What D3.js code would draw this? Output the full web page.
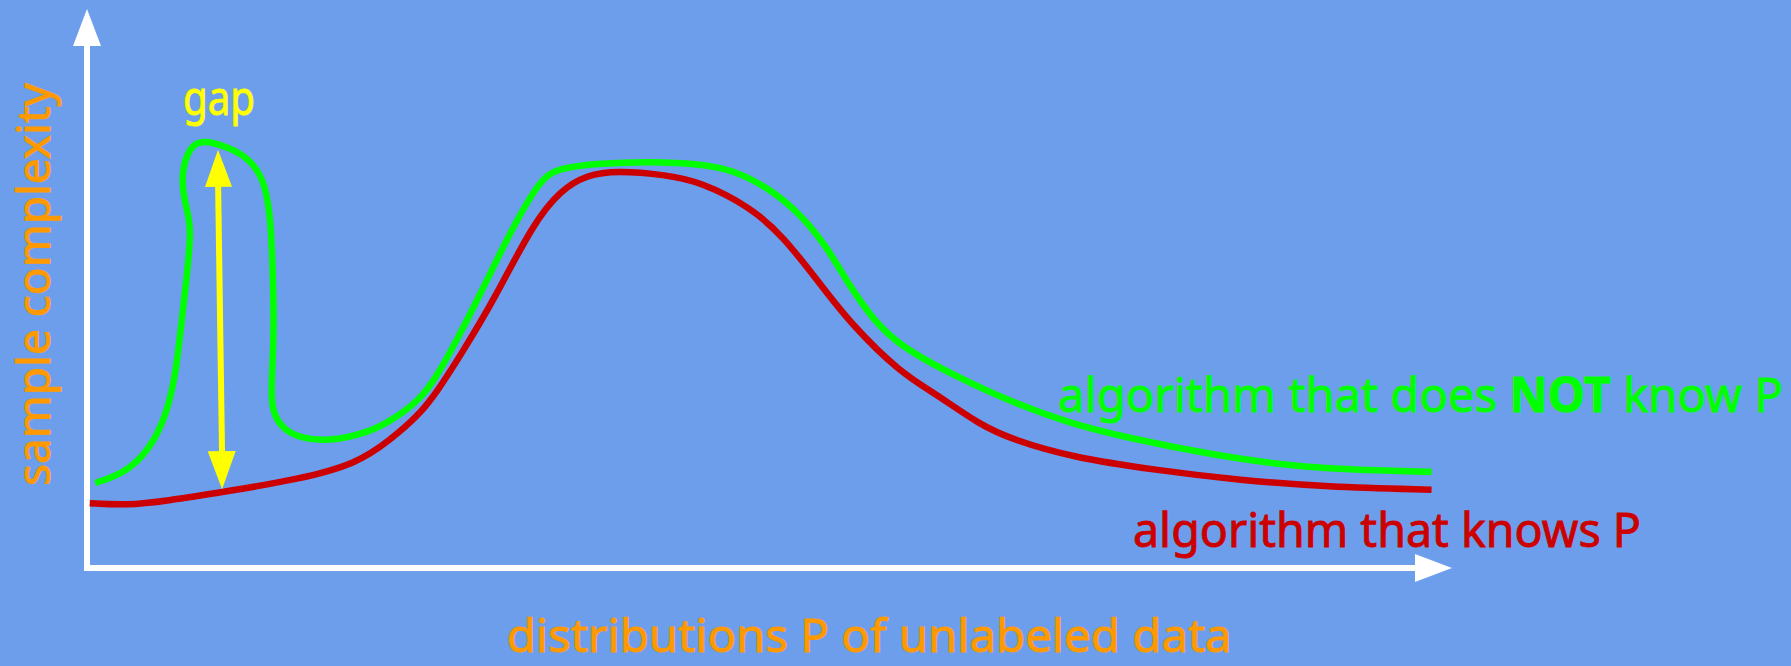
<!DOCTYPE html>
<html>
<head>
<meta charset="utf-8">
<script src="https://cdn.jsdelivr.net/npm/d3@7"></script>
<style>
  html, body { margin: 0; padding: 0; background: #6d9eeb; overflow: hidden; }
  text { font-family: "Comic Sans MS", "Noto Sans", sans-serif; stroke-width: 0.9px; }
</style>
</head>
<body>
<div id="my_dataviz"></div>
<script>
// curve points, x = position along the axis (0-100), y = sample complexity (0-100)
const greenCurve = [
  [0.6, 15.2], [2.9, 17.1], [4.6, 21.3], [5.8, 27.2], [6.4, 33.8], [6.6, 37.2],
  [6.9, 43.2], [7.3, 52.1], [7.7, 61.1], [7.1, 65.8], [6.9, 70.6], [7.5, 75.4],
  [8.5, 76.6], [10.2, 75.4], [11.7, 73.6], [12.9, 70.0], [13.4, 64.0], [13.6, 55.1],
  [13.7, 43.2], [13.6, 36.1], [13.4, 28.3], [14.4, 24.7], [15.6, 23.3], [17.6, 22.6],
  [20.5, 24.1], [22.4, 26.5], [24.4, 30.1], [25.6, 34.2], [27.1, 40.8], [28.6, 47.9],
  [31.2, 61.1], [33.2, 69.4], [34.4, 71.5], [37.6, 72.4], [41.3, 72.7], [44.9, 72.3],
  [47.3, 71.2], [49.8, 68.2], [52.2, 63.5], [54.2, 57.5], [55.9, 50.3], [57.6, 44.4],
  [59.6, 39.6], [63.7, 34.2], [67.9, 29.5], [72.0, 25.9], [76.2, 23.3], [82.5, 20.2],
  [88.9, 18.0], [95.0, 17.4], [98.5, 17.2]
];
const redCurve = [
  [0.2, 11.6], [2.9, 11.2], [5.8, 12.0], [10.0, 13.6], [15.6, 15.9], [19.8, 18.7],
  [22.2, 22.9], [24.2, 27.1], [25.6, 31.3], [27.6, 39.0], [29.8, 47.9], [32.7, 61.7],
  [34.7, 67.6], [36.6, 70.3], [38.8, 71.1], [42.5, 70.3], [44.9, 69.1], [48.6, 64.6],
  [51.0, 59.3], [53.5, 51.5], [55.9, 43.8], [59.6, 34.9], [62.1, 31.3], [65.4, 25.6],
  [67.9, 22.9], [72.0, 19.9], [78.3, 17.5], [84.5, 15.7], [90.8, 14.5], [98.5, 14.0]
];
// the "gap" double arrow, top end then bottom end
const gapArrow = [[9.6, 74.8], [9.9, 14.1]];

const labels = {
  yTitle: "sample complexity",
  xTitle: "distributions P of unlabeled data",
  gap: "gap",
  red: "algorithm that knows P"
};
const greenLabelParts = [
  { t: "algorithm that does ", bold: false },
  { t: "NOT", bold: true },
  { t: " know P", bold: false }
];

const width = 1791,
      height = 666;

const svg = d3.select("#my_dataviz")
  .append("svg")
    .attr("width", width)
    .attr("height", height);

svg.append("rect")
  .attr("width", width)
  .attr("height", height)
  .attr("fill", "#6d9eeb");

// scales, 0 sits on the axes and 100 on the arrow tips
const x = d3.scaleLinear().domain([0, 100]).range([87, 1452]);
const y = d3.scaleLinear().domain([0, 100]).range([568, 9]);

// draw a filled arrow head pointing from (x0,y0) to (x1,y1), tip at (x1,y1)
function arrowHead(g, x0, y0, x1, y1, len, half, color) {
  const a = Math.atan2(y1 - y0, x1 - x0);
  const bx = x1 - len * Math.cos(a), by = y1 - len * Math.sin(a);
  const nx = -Math.sin(a) * half, ny = Math.cos(a) * half;
  g.append("path")
    .attr("d", `M${x1},${y1}L${bx + nx},${by + ny}L${bx - nx},${by - ny}Z`)
    .attr("fill", color);
}

// axes
const axes = svg.append("g");
axes.append("line")
  .attr("x1", x(0)).attr("y1", y(0) + 3)
  .attr("x2", x(0)).attr("y2", y(100) + 30)
  .attr("stroke", "white").attr("stroke-width", 6);
arrowHead(axes, x(0), y(0), x(0), y(100), 37, 14, "white");
axes.append("line")
  .attr("x1", x(0)).attr("y1", y(0))
  .attr("x2", x(100) - 30).attr("y2", y(0))
  .attr("stroke", "white").attr("stroke-width", 6);
arrowHead(axes, x(0), y(0), x(100), y(0), 37, 14, "white");

// the two curves, smoothed
const line = d3.line()
  .x(d => x(d[0]))
  .y(d => y(d[1]))
  .curve(d3.curveBasis);

svg.append("path")
  .attr("d", line(redCurve))
  .attr("fill", "none")
  .attr("stroke", "#cc0000")
  .attr("stroke-width", 6.5);

svg.append("path")
  .attr("d", line(greenCurve))
  .attr("fill", "none")
  .attr("stroke", "#00ff00")
  .attr("stroke-width", 6.5);

// gap arrow
const ga = svg.append("g");
const [tx, ty] = [x(gapArrow[0][0]), y(gapArrow[0][1])];
const [bx, by] = [x(gapArrow[1][0]), y(gapArrow[1][1])];
ga.append("line")
  .attr("x1", tx).attr("y1", ty + 30)
  .attr("x2", bx).attr("y2", by - 30)
  .attr("stroke", "#ffff00").attr("stroke-width", 6);
arrowHead(ga, bx, by, tx, ty, 37, 13.5, "#ffff00");
arrowHead(ga, tx, ty, bx, by, 38, 14, "#ffff00");

// texts
svg.append("text")
  .attr("transform", "translate(50,284.5) rotate(-90)")
  .attr("text-anchor", "middle")
  .attr("textLength", 403)
  .attr("lengthAdjust", "spacingAndGlyphs")
  .style("font-size", "46px")
  .style("fill", "#ff9900")
  .style("stroke", "#ff9900")
  .text(labels.yTitle);

svg.append("text")
  .attr("x", 506.7)
  .attr("y", 652)
  .attr("textLength", 725)
  .attr("lengthAdjust", "spacingAndGlyphs")
  .style("font-size", "46px")
  .style("fill", "#ff9900")
  .style("stroke", "#ff9900")
  .text(labels.xTitle);

svg.append("text")
  .attr("x", 183)
  .attr("y", 115)
  .attr("textLength", 72)
  .attr("lengthAdjust", "spacingAndGlyphs")
  .style("font-size", "48px")
  .style("fill", "#ffff00")
  .style("stroke", "#ffff00")
  .text(labels.gap);

const gl = svg.append("text")
  .attr("x", 1058)
  .attr("y", 411.7)
  .attr("textLength", 725)
  .attr("lengthAdjust", "spacingAndGlyphs")
  .style("font-size", "48px")
  .style("fill", "#00ff00")
  .style("stroke", "#00ff00");
gl.selectAll("tspan")
  .data(greenLabelParts)
  .join("tspan")
    .style("font-weight", d => d.bold ? "bold" : "normal")
    .text(d => d.t);

svg.append("text")
  .attr("x", 1133)
  .attr("y", 547)
  .attr("textLength", 508)
  .attr("lengthAdjust", "spacingAndGlyphs")
  .style("font-size", "48px")
  .style("fill", "#cc0000")
  .style("stroke", "#cc0000")
  .text(labels.red);
</script>
</body>
</html>
